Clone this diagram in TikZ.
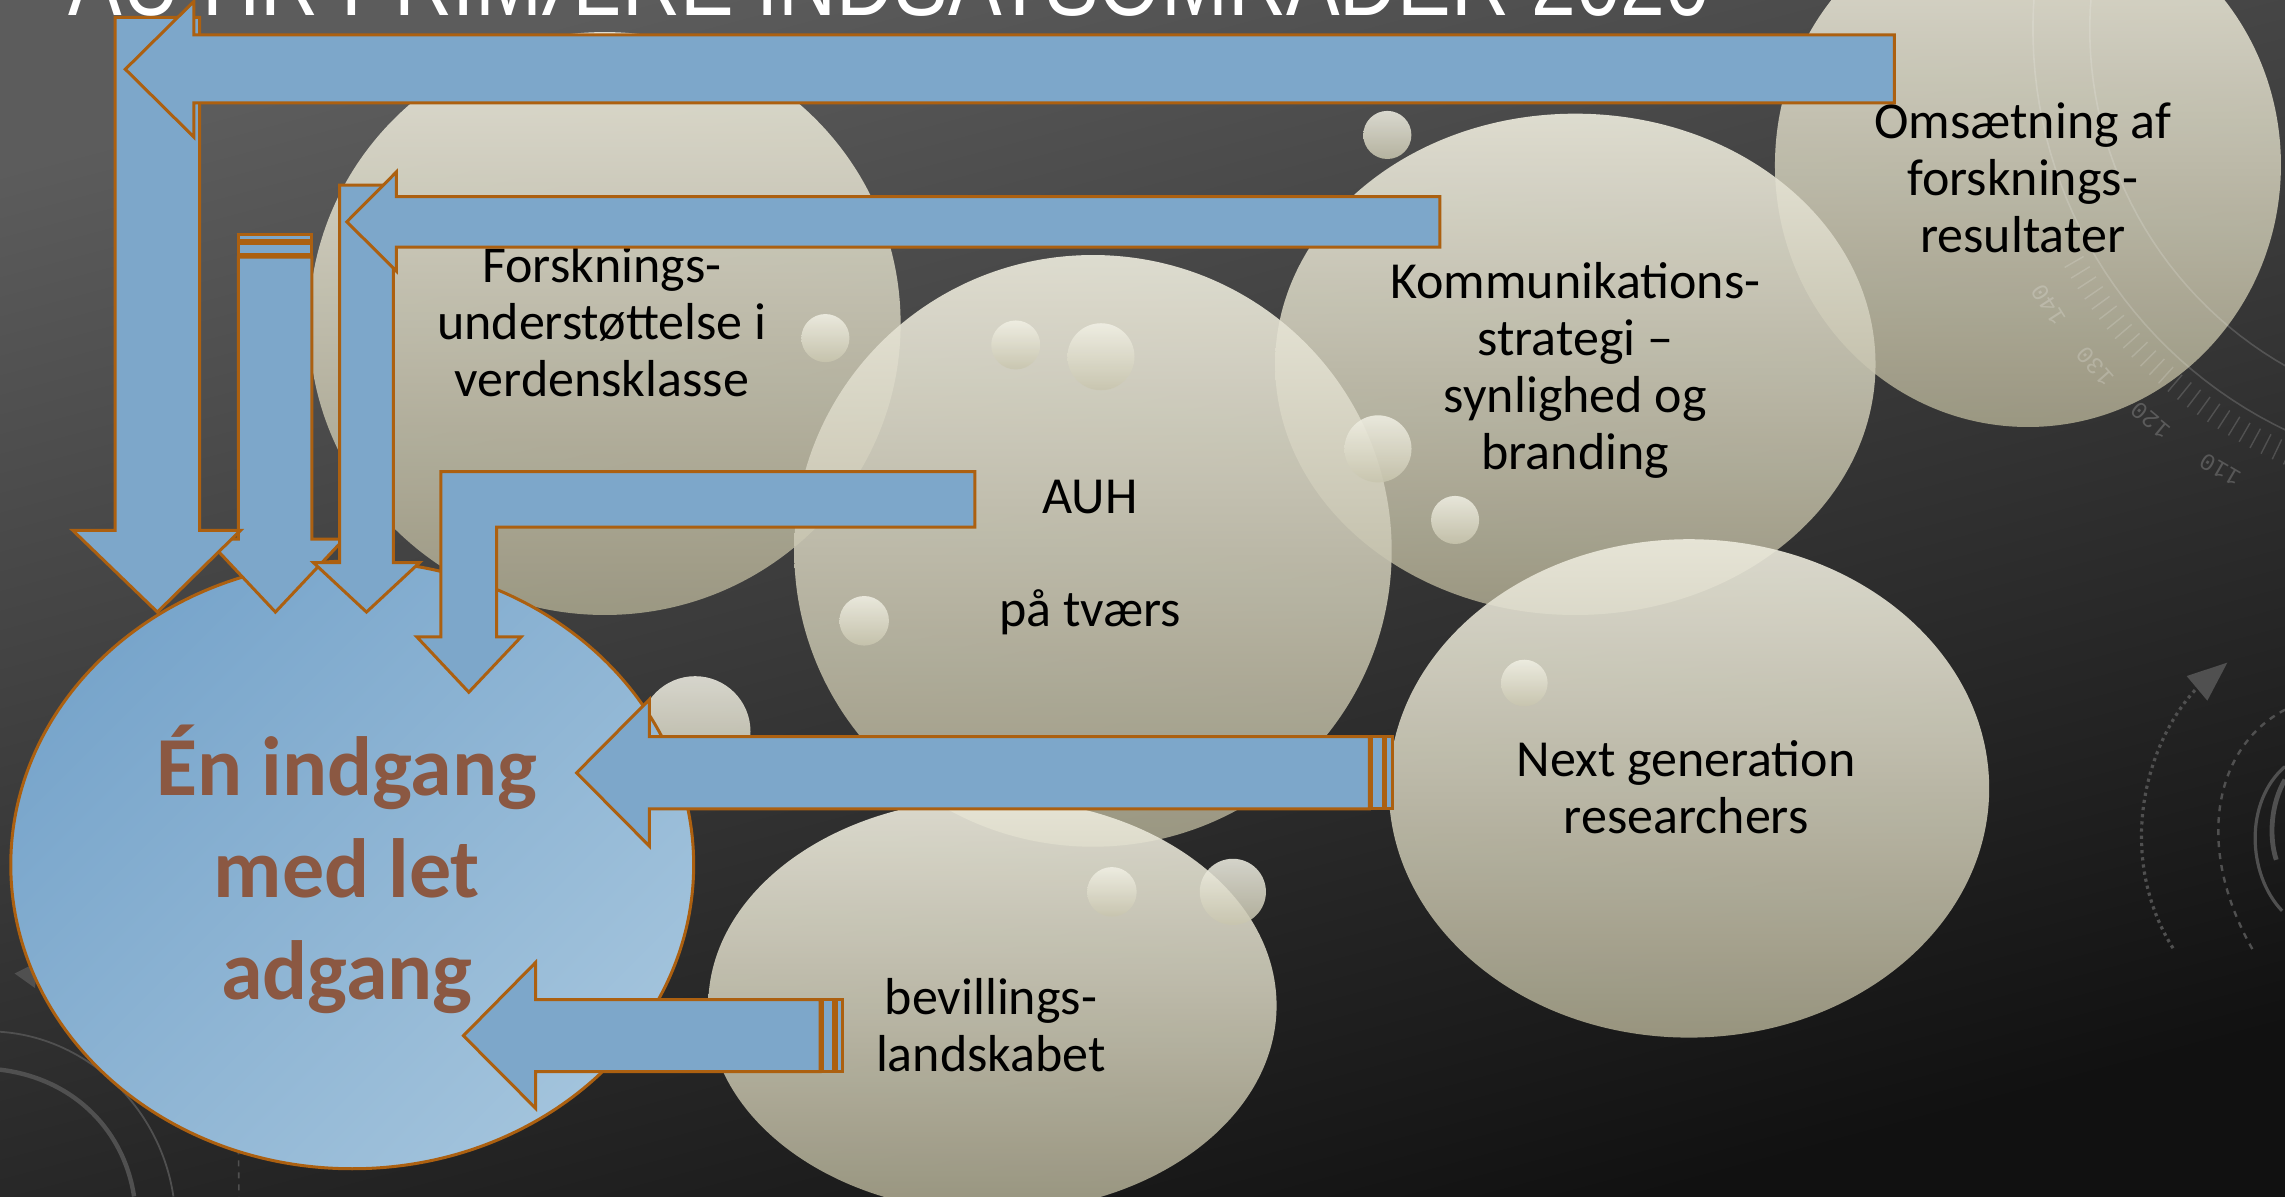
\documentclass[tikz,border=0pt]{standalone}
\usepackage{fontspec}
\setmainfont{Carlito}
\newfontfamily\titlefont{Liberation Sans}
\newfontfamily\dialfont{Liberation Mono}
\definecolor{arrowfill}{RGB}{125,167,202}
\definecolor{arrowline}{RGB}{172,96,16}
\definecolor{bubtop}{RGB}{238,236,222}
\definecolor{bubbot}{RGB}{166,162,138}
\definecolor{smalltop}{RGB}{242,241,230}
\definecolor{smallbot}{RGB}{200,197,174}
\definecolor{bigtxt}{RGB}{139,88,66}
\definecolor{bluetop}{RGB}{120,165,203}
\definecolor{bluebot}{RGB}{162,195,220}
\definecolor{bgtop}{RGB}{92,92,92}
\definecolor{bgbot}{RGB}{17,17,17}
\definecolor{decogray}{RGB}{80,80,80}
\tikzset{
  arrowshape/.style={fill=arrowfill, draw=arrowline, line width=1.5pt, line join=miter},
  bubble/.style={top color=bubtop, bottom color=bubbot, opacity=0.9},
  smallbub/.style={top color=smalltop, bottom color=smallbot, opacity=0.85},
  bubtext/.style={font=\fontsize{26}{28.4}\selectfont, align=center, inner sep=0pt, anchor=base, text=black},
  bigtext/.style={font=\bfseries\fontsize{42}{51}\selectfont, align=center, inner sep=0pt, anchor=base, text=bigtxt},
  decoline/.style={draw=decogray},
  dialline/.style={draw=white, opacity=0.16},
  diallabel/.style={font=\dialfont\fontsize{12}{12}\selectfont, text=white, opacity=0.2, inner sep=0pt}
}
\begin{document}
\begin{tikzpicture}[x=0.7287pt,y=-0.7287pt]
\useasboundingbox (0,0) rectangle (1568,821);
\clip (0,0) rectangle (1568,821);
% background
\shade[top color=bgtop, bottom color=bgbot, shading angle=15] (0,0) rectangle (1568,821);

% title (mostly cut off at the top)
\node[anchor=base west, inner sep=0pt, text=white, font=\titlefont\fontsize{49}{50}\selectfont, xscale=0.82] (title) at (47,10.3) {AU HR PRIMÆRE INDSATSOMRÅDER 2020};

% faint decorations bottom-left
\draw[decoline, line width=2.2pt] (0,734) .. controls (50,740) and (85,775) .. (92,821);
\draw[decoline, line width=0.9pt] (0,708) .. controls (60,712) and (110,760) .. (119,821);
\fill[decogray] (10,668) -- (26,660) -- (24,678) -- cycle;
\draw[decoline, dashed, line width=0.8pt] (163.6,788) -- (164,821);
% faint decorations bottom-right
\fill[decogray] (1500.5,463.9) -- (1528.4,454.7) -- (1514.7,480.8) -- cycle;
\draw[decoline, dotted, line width=1.6pt] (1509.6,470) .. controls (1470,510) and (1452,590) .. (1492,652);
\draw[decoline, dashed, line width=1.2pt] (1568,487) .. controls (1520,512) and (1505,580) .. (1546,652);
\draw[decoline, line width=1.6pt] (1568,526) .. controls (1540,550) and (1542,600) .. (1566,625);
\draw[decoline, line width=2.4pt] (1568,535) .. controls (1558,552) and (1557,575) .. (1562,590);

% big bubbles
\shade[bubble] (1391.6,113.2) ellipse [x radius=173.6, y radius=179.8];
\shade[bubble] (1081,250) ellipse [x radius=206, y radius=172];
\shade[bubble] (415,222) ellipse [x radius=203, y radius=200];
\shade[bubble] (750,378) ellipse [x radius=205, y radius=203];
\shade[bubble] (1159,541) ellipse [x radius=206, y radius=171];
\shade[bubble] (681,690) ellipse [x radius=195, y radius=142];

% dial decoration (upper right)
\draw[dialline, line width=0.8pt] plot[domain=60:185, samples=60] ({1700+266*cos(\x)}, {20+266*sin(\x)});
\draw[dialline, line width=0.8pt] plot[domain=60:185, samples=60] ({1700+305*cos(\x)}, {20+305*sin(\x)});
\foreach \a in {96,97.5,...,150} \draw[dialline, line width=0.7pt] ({1700+312*cos(\a)},{20+312*sin(\a)}) -- ({1700+327*cos(\a)},{20+327*sin(\a)});
\foreach \a in {60,62,...,100} \draw[dialline, line width=0.7pt] ({1700+244*cos(\a)},{20+244*sin(\a)}) -- ({1700+256*cos(\a)},{20+256*sin(\a)});
\foreach \a/\t in {120.3/110,129.9/120,138.6/130,147.3/140}
  \node[diallabel, rotate={270-\a}] at ({1700+350*cos(\a)},{20+350*sin(\a)}) {\t};

% small bubbles
\shade[smallbub] (952,92.6) circle [radius=16.5];
\shade[smallbub] (566.4,232) circle [radius=16.5];
\shade[smallbub] (697,236.7) circle [radius=16.8];
\shade[smallbub] (755.5,244.8) circle [radius=23];
\shade[smallbub] (945.6,308) circle [radius=23];
\shade[smallbub] (998.5,356.8) circle [radius=16.5];
\shade[smallbub] (593,426) circle [radius=17];
\shade[smallbub] (477,502) circle [radius=38];
\shade[smallbub] (1046,468.7) circle [radius=16];
\shade[smallbub] (763,612) circle [radius=17];
\shade[smallbub] (846,612) circle [radius=22.7];

% bubble texts (anchor = baseline of last line)
\node[bubtext] (forsk) at (413,272) {Forsknings-\\understøttelse i\\verdensklasse};
\node[bubtext] (auh) at (748,430) {AUH\\[28.4pt]på tværs};
\node[bubtext] (komm) at (1081,322) {Kommunikations-\\strategi –\\synlighed og\\branding};
\node[bubtext] (oms) at (1388,173) {Omsætning af\\forsknings-\\resultater};
\node[bubtext] (next) at (1157,572) {Next generation\\researchers};
\node[bubtext] (bev) at (680,735) {bevillings-\\landskabet};

% big blue circle
\shadedraw[top color=bluetop, bottom color=bluebot, shading angle=45, draw=arrowline, line width=1.5pt] (241.7,593.5) ellipse [x radius=234.3, y radius=208.5];
\node[bigtext] (entry) at (238,686) {Én indgang\\med let\\adgang};

% block arrows
% B (striped, down)
\path[arrowshape] (163.5,176.5) -- (214,176.5) -- (214,370) -- (236,370) -- (189,420) -- (142,370) -- (163.5,370) -- cycle;
\path[arrowshape] (163.5,167.4) rectangle (214,174.3);
\path[arrowshape] (163.5,161) rectangle (214,165.2);
% A (down)
\path[arrowshape] (79,12) -- (137,12) -- (137,364) -- (165,364) -- (108,420) -- (50,364) -- (79,364) -- cycle;
% C (down)
\path[arrowshape] (233,127) -- (270,127) -- (270,386) -- (288,386) -- (251.5,420) -- (215,386) -- (233,386) -- cycle;
% top arrow from Omsaetning
\path[arrowshape] (1300,24) -- (133,24) -- (133,1) -- (86,47.5) -- (133,94) -- (133,70.6) -- (1300,70.6) -- cycle;
% arrow from Kommunikation
\path[arrowshape] (988,135) -- (272,135) -- (272,118) -- (238,152.2) -- (272,186) -- (272,169.5) -- (988,169.5) -- cycle;
% bent arrow from AUH
\path[arrowshape] (302.6,323.7) -- (669,323.7) -- (669,361.7) -- (340.8,361.7) -- (340.8,437) -- (357.6,437) -- (321.7,475) -- (286,437) -- (302.6,437) -- cycle;
% arrow from Next generation (striped)
\path[arrowshape] (939.6,505.5) -- (445.6,505.5) -- (445.6,480) -- (395.7,530.3) -- (445.6,580.6) -- (445.6,555) -- (939.6,555) -- cycle;
\path[arrowshape] (941.3,505.5) rectangle (949.3,555);
\path[arrowshape] (950.4,505.5) rectangle (955.6,555);
% arrow from bevillingslandskabet (striped)
\path[arrowshape] (562.7,686) -- (367.5,686) -- (367.5,660.5) -- (318,710.7) -- (367.5,760.5) -- (367.5,735.4) -- (562.7,735.4) -- cycle;
\path[arrowshape] (564.5,686) rectangle (571.8,735.4);
\path[arrowshape] (573.7,686) rectangle (578.3,735.4);
\end{tikzpicture}
\end{document}
